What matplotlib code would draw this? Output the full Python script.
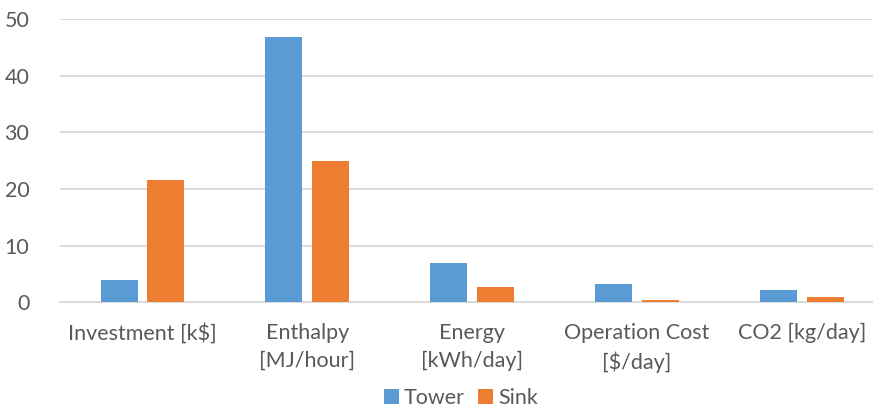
import numpy as np
import matplotlib.pyplot as plt

categories = ['Investment [k$]', 'Enthalpy\n[MJ/hour]', 'Energy\n[kWh/day]',
              'Operation Cost\n[$/day]', 'CO2 [kg/day]']
tower = [3.9, 46.8, 6.9, 3.2, 2.2]
sink = [21.6, 24.9, 2.65, 0.45, 0.85]
y_ticks = [0, 10, 20, 30, 40, 50]

TEXT = '#595959'
GRID = '#D9D9D9'


def main():
    plt.rcParams['font.family'] = ['Lato', 'DejaVu Sans']
    fig = plt.figure(figsize=(8.73, 4.09), dpi=100)
    ax = fig.add_axes([60 / 873, 106.7 / 409, 824.5 / 873, 283.3 / 409])

    x = np.arange(len(categories))
    w = 0.224
    off = 0.142
    ax.bar(x - off, tower, w, color='#5B9BD5', label='Tower', zorder=3)
    ax.bar(x + off, sink, w, color='#ED7D31', label='Sink', zorder=3)

    ax.set_xlim(-0.5, len(categories) - 0.5)
    ax.set_ylim(0, 50)
    ax.set_yticks(y_ticks)
    ax.set_xticks(x)
    ax.set_xticklabels(categories, linespacing=1.5)
    ax.tick_params(axis='y', length=0, pad=22, labelsize=15.5, labelcolor=TEXT)
    ax.tick_params(axis='x', length=0, pad=15, labelsize=15.5, labelcolor=TEXT)
    ax.grid(True, axis='y', color=GRID, linewidth=1.3, zorder=0)
    for side in ['top', 'right', 'left']:
        ax.spines[side].set_visible(False)
    ax.spines['bottom'].set_color(GRID)
    ax.spines['bottom'].set_linewidth(1.3)

    fig.legend(loc='lower center', bbox_to_anchor=(0.528, -0.045), ncol=2,
               frameon=False, fontsize=15.5, handlelength=0.7, handleheight=0.7,
               handletextpad=0.25, columnspacing=0.6, labelcolor=TEXT)
    fig.savefig('out.png', dpi=100)
    plt.close(fig)


if __name__ == '__main__':
    main()
